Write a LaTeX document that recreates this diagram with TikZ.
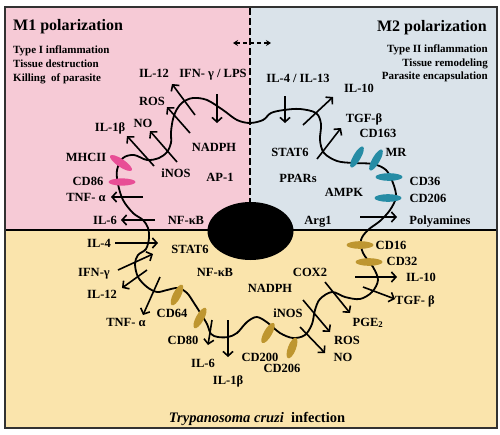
\documentclass[tikz,border=0pt]{standalone}
\usepackage{fontspec}
\setmainfont{Liberation Serif}
\usetikzlibrary{arrows.meta}
\definecolor{pinkbg}{RGB}{246,202,214}
\definecolor{bluebg}{RGB}{218,227,234}
\definecolor{yellowbg}{RGB}{250,228,172}
\definecolor{pinkrec}{RGB}{232,78,150}
\definecolor{tealrec}{RGB}{38,140,165}
\definecolor{goldrec}{RGB}{190,150,48}
\definecolor{framecol}{RGB}{50,50,50}
\begin{document}
\begin{tikzpicture}[x=1pt,y=-1pt,
  lbl/.style={font=\fontsize{12.5}{14}\selectfont\bfseries, anchor=base, inner sep=0pt},
  sub/.style={font=\fontsize{11}{12}\selectfont\bfseries, inner sep=0pt, anchor=base west},
  subr/.style={font=\fontsize{11}{12}\selectfont\bfseries, inner sep=0pt, anchor=base east},
  ttl/.style={font=\fontsize{16}{18}\selectfont\bfseries, inner sep=0pt},
  arr/.style={line width=1.6pt, -{Straight Barb[length=4.5pt,width=10pt]}},
  mem/.style={line width=1.8pt, line join=round},
]
\useasboundingbox (0,0) rectangle (500,434);
% backgrounds
\fill[pinkbg] (5,7) rectangle (250,230);
\fill[bluebg] (250,7) rectangle (497,230);
\fill[yellowbg] (5,230) rectangle (497,428);
\draw[line width=1.4pt] (5,230) -- (497,230);
\draw[line width=2pt, framecol] (5,7) rectangle (497,428);
% dashed divider
\coordinate (vtop) at (250,8);
\coordinate (vbot) at (250,203);
\draw[line width=1.6pt, dash pattern=on 7pt off 3pt] (vtop) -- (vbot);
\coordinate (dl) at (233,43);
\coordinate (dr) at (271,43);
\draw[line width=1.3pt, dash pattern=on 4pt off 3pt, {Stealth[length=5pt,width=6pt]}-{Stealth[length=5pt,width=6pt]}] (dl) -- (dr);

% titles
\node[ttl, anchor=base west] (m1) at (13,30) {M1 polarization};
\node[ttl, anchor=base east] (m2) at (487,31) {M2 polarization};
\node[sub] (m1a) at (13,53.5) {Type I inflammation};
\node[sub] (m1b) at (13,67) {Tissue destruction};
\node[sub] (m1c) at (13,81.5) {Killing\ \ of parasite};
\node[subr] (m2a) at (488,52) {Type II inflammation};
\node[subr] (m2b) at (488,66) {Tissue remodeling};
\node[subr] (m2c) at (488,79.5) {Parasite encapsulation};

% membrane
\draw[mem] plot[smooth cycle, tension=0.55] coordinates {
 (293,338) (305,335) (312,324) (315,310) (320,299) (332,292) (345,297) (360,299)
 (372,292) (378,280) (373,267) (363,253) (361,240) (368,230) (380,221) (390,210)
 (396,197) (393,183) (386,170) (373,164) (353,163) (337,161) (324,153) (320,140)
 (321,124) (316,113) (300,109) (284,110) (271,113) (263,120) (250,123) (237,120)
 (223,110) (207,100) (193,98) (183,102) (177,109) (173,119) (171,132) (171,143)
 (167,152) (159,158) (147,160) (134,155) (123,158) (117,170) (118,184) (123,200)
 (133,213) (143,220) (148,228) (149,238) (146,249) (138,255) (135,264) (138,277)
 (147,287) (157,292) (167,290) (178,288) (187,293) (194,303) (201,314) (207,324)
 (211,334) (218,337) (228,337) (237,333) (247,322) (257,317) (268,323) (280,333)};

% nucleus
\fill (250.5,231) ellipse [x radius=43pt, y radius=29pt];

% receptors
\fill[pinkrec, rotate around={-34:(121,163)}] (121,163) ellipse [x radius=13pt, y radius=4pt];
\fill[pinkrec] (122,182) ellipse [x radius=13.5pt, y radius=3.6pt];
\fill[tealrec, rotate around={60:(357,157)}] (357,157) ellipse [x radius=12pt, y radius=3.8pt];
\fill[tealrec, rotate around={60:(376,160)}] (376,160) ellipse [x radius=12pt, y radius=3.8pt];
\fill[tealrec] (389,177) ellipse [x radius=13.5pt, y radius=3.8pt];
\fill[tealrec] (388,198) ellipse [x radius=13.5pt, y radius=3.8pt];
\fill[goldrec] (360,245) ellipse [x radius=13.5pt, y radius=3.8pt];
\fill[goldrec] (369,262) ellipse [x radius=13.5pt, y radius=3.8pt];
\fill[goldrec, rotate around={63:(177,295)}] (177,295) ellipse [x radius=11.5pt, y radius=4pt];
\fill[goldrec, rotate around={61:(200,318)}] (200,318) ellipse [x radius=11.5pt, y radius=4pt];
\fill[goldrec, rotate around={60:(268,333)}] (268,333) ellipse [x radius=11.5pt, y radius=4pt];
\fill[goldrec, rotate around={69:(292,348)}] (292,348) ellipse [x radius=11pt, y radius=4pt];

% top-left labels
\node[lbl] (a1) at (154,77) {IL-12};
\node[lbl] (a2) at (213,77) {IFN- γ / LPS};
\node[lbl] (a3) at (152,105) {ROS};
\node[lbl] (a4) at (143,127) {NO};
\node[lbl] (a5) at (110,131) {IL-1β};
\node[lbl] (a6) at (214,151) {NADPH};
\node[lbl] (a7) at (86,161) {MHCII};
\node[lbl] (a8) at (176,177) {iNOS};
\node[lbl] (a9) at (220,181) {AP-1};
\node[lbl] (a10) at (88,185) {CD86};
\node[lbl] (a11) at (86,201) {TNF- α};
\node[lbl] (a12) at (105,224) {IL-6};
\node[lbl] (a13) at (186,224) {NF-κB};
% top-right labels
\node[lbl] (b1) at (298,82) {IL-4 / IL-13};
\node[lbl] (b2) at (359,92) {IL-10};
\node[lbl] (b3) at (364,122) {TGF-β};
\node[lbl] (b4) at (378,137) {CD163};
\node[lbl] (b5) at (290,156) {STAT6};
\node[lbl] (b6) at (396,156) {MR};
\node[lbl] (b7) at (298,182) {PPARs};
\node[lbl] (b8) at (425,185) {CD36};
\node[lbl] (b9) at (344,196) {AMPK};
\node[lbl] (b10) at (428,202) {CD206};
\node[lbl] (b11) at (318,224) {Arg1};
\node[lbl] (b12) at (440,224) {Polyamines};
% bottom labels
\node[lbl] (c1) at (99,247) {IL-4};
\node[lbl] (c2) at (190,253) {STAT6};
\node[lbl] (c3) at (391,249) {CD16};
\node[lbl] (c4) at (402,265) {CD32};
\node[lbl] (c5) at (94,276) {IFN-γ};
\node[lbl] (c6) at (215,276) {NF-κB};
\node[lbl] (c7) at (310,276) {COX2};
\node[lbl] (c8) at (421,281) {IL-10};
\node[lbl] (c9) at (270,292) {NADPH};
\node[lbl] (c10) at (102,298) {IL-12};
\node[lbl] (c11) at (415,304) {TGF- β};
\node[lbl] (c12) at (172,317) {CD64};
\node[lbl] (c13) at (288,317) {iNOS};
\node[lbl] (c14) at (126,326) {TNF- α};
\node[lbl] (c15) at (368,326) {PGE\textsubscript{2}};
\node[lbl] (c16) at (183,344) {CD80};
\node[lbl] (c17) at (347,344) {ROS};
\node[lbl] (c18) at (260,361) {CD200};
\node[lbl] (c19) at (343,361) {NO};
\node[lbl] (c20) at (203,367) {IL-6};
\node[lbl] (c21) at (282,372) {CD206};
\node[lbl] (c22) at (228,384) {IL-1β};
\node[font=\fontsize{14.5}{16}\selectfont\bfseries, anchor=base, inner sep=0pt] (inf) at (257,422) {\textit{Trypanosoma cruzi}\ \ infection};

% arrows top-left
\coordinate (t1) at (195,115); \coordinate (h1) at (172,84);
\coordinate (t2) at (190,133); \coordinate (h2) at (167,107);
\coordinate (t3) at (177,162); \coordinate (h3) at (150,131);
\coordinate (t4) at (154,166); \coordinate (h4) at (127,136);
\coordinate (t5) at (217,94);  \coordinate (h5) at (217,123);
\coordinate (t6) at (143,197); \coordinate (h6) at (111,197);
\coordinate (t7) at (155,220); \coordinate (h7) at (121,220);
\foreach \i in {1,...,7} {\draw[arr] (t\i) -- (h\i);}
% arrows top-right
\coordinate (u1) at (285,96);  \coordinate (k1) at (285,123);
\coordinate (u2) at (303,125); \coordinate (k2) at (333,97);
\coordinate (u3) at (317,159); \coordinate (k3) at (341,128);
\coordinate (u4) at (360,217); \coordinate (k4) at (397,217);
\foreach \i in {1,...,4} {\draw[arr] (u\i) -- (k\i);}
% arrows bottom
\coordinate (v1) at (115,243);  \coordinate (m1h) at (158,243);
\coordinate (v2) at (118,270);  \coordinate (m2h) at (153,254);
\coordinate (v3) at (147,270);  \coordinate (m3h) at (122,288);
\coordinate (v4) at (160,277);  \coordinate (m4h) at (143,315);
\coordinate (v5) at (212,320);  \coordinate (m5h) at (208,345);
\coordinate (v6) at (228,320);  \coordinate (m6h) at (228,357);
\coordinate (v7) at (355,277);  \coordinate (m7h) at (397,277);
\coordinate (v8) at (363,287);  \coordinate (m8h) at (395,299);
\coordinate (v9) at (325,282);  \coordinate (m9h) at (350,313);
\coordinate (v10) at (303,300); \coordinate (m10h) at (330,332);
\coordinate (v11) at (300,327); \coordinate (m11h) at (325,353);
\foreach \i in {1,...,11} {\draw[arr] (v\i) -- (m\i h);}
\end{tikzpicture}
\end{document}
